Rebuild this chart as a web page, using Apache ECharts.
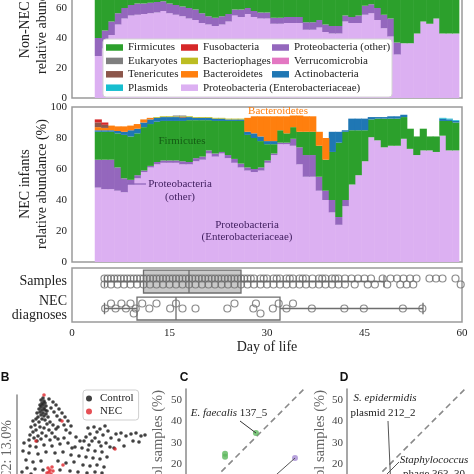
<!DOCTYPE html>
<html><head><meta charset="utf-8">
<script src="https://cdn.jsdelivr.net/npm/echarts@6/dist/echarts.min.js"></script>
<style>html,body{margin:0;padding:0;background:#fff;overflow:hidden;width:474px;height:474px}#c{position:absolute;left:0;top:-60px;width:474px;height:600px}</style>
</head><body><div id="c"></div>
<script>
// ---------------- DATA ----------------
const days = [4,5,6,7,8,9,10,11,12,13,14,15,16,17,18,19,20,21,22,23,24,25,26,27,28,29,30,31,32,33,34,35,36,37,38,39,40,41,42,43,44,45,46,47,48,49,50,51,52,53,54,55,56,57,58,59];

// Non-NEC infants (relative abundance %, per day)
const nonEntero = [28,33,42,49,53,55,55.5,56,56.5,57, 58,56.5,55.5,54.5,53,52,50,49,48,49, 51,55,54,56,54,53,53,49.5,49.5,50, 50,50,45.5,45.5,47,44,43,43,51,50, 50,55.5,56.5,52,46.5,41,29,36.5,36.5,43, 51,49.5,53,43,43,43];
const nonProtOther = [12,12,9,7.5,7,7,7.5,7,7,7, 6.5,6.5,6.5,6.5,7,7,6.5,5.5,5.5,5.5, 5,4,5,4,4,4,4,4,4,4, 4,4,5,5,5,5,5,5,4,4, 5,6,6,8,9,12,8,0,0,0, 0,0,0,0,0,0];
const nonFirmicutes = [52,47,41,35.5,32,30,29,29,28.5,28, 27.5,29,30,31,32,33,35.5,37.5,38.5,37.5, 36,33,33,32,34,35,35,38.5,38.5,38, 38,38,41.5,41.5,40,43,44,44,37,38, 37,30.5,29.5,32,36.5,39,55,55.5,55.5,49, 41,42.5,39,49,49,49];

// NEC infants
const necEntero = [48,47,47,46,45,50,54,58,61,63, 64,64,64,63,63,65,66,70,68,70, 67,64,61,59,58,59,64,69,76,76, 75,63,55,55,46,40,32,24,36,50, 56,65,80.5,78.5,74,75,75,79.5,73,69, 72,72,71,81.5,72,72];
const necProtOther = [18,19,19,15,9,3,2,1,1,1.5, 1.5,1.5,1.5,2,1.5,2,2,2,2,1, 2,2.5,2.5,2,2,2,1.5,1,1,1, 4.5,11,14,14,9,6,8,5,4,0, 0,0,0,0,0,0,0,0,0,0, 0,0,0,0,0,0];
const necFirmicutes = [18,18,18,22,28,28,27,28,27,26, 25.5,25.5,25.5,26,27,24.5,23.5,19.5,21,20, 22,24.5,27.5,21,20,17,10.5,6,8,6, 7.5,10,15,15,20,20,31,48,44,35, 29,20,11.5,14,18.5,17.5,17.5,14,13,12, 14,9,10,9.5,19,18];
const necActino = [1,1,1,1.5,2,4,3,3,3,2.5, 2.5,2.5,2.5,2,2,1.5,1.5,1.5,1.5,1.5, 1,1,1,2,3,3,2,2,0,0, 0,0,0,0,0,0,13,7,1,7.5, 7.5,7.5,1.5,1,1,1.5,1.5,1.5,0,0, 0,0,0,1.5,1,1];
const necBacteroidetes = [2,1.5,3,3,3.5,3,3,2,1,0, 0,0,0,0,0,0,0,0,0,0, 0,0,0,9,11,13,16,16,9,11, 7.5,10.5,10,10,9,14,0,0,0,0, 0,0,0,0,0,0,0,0,0,0, 0,0,0,0,0,0];
const necTenericutes = [3,2,0,0,0,0,0,0,0,0, 0,0,0,0.5,0,0,0,0,0,0, 0,0,0,0,0,0,0,0,0,0, 0,0,0,0,0,0,0,0,0,0, 0,0,0,0,0,0,0,0,0,0, 0,0,0,0,0,0];
const necFuso = [2,1.5,0,0,0,0,0,0,0,0, 0,0,0,0,0,0,0,0,0,0, 0,0,0,0,0,0,0,0,0,0, 0,0,0,0,0,0,0,0,0,0, 0,0,0,0,0,0,0,0,0,0, 0,0,0,0,0,0];
const necPhages = [0,0,0,0,0,0,0,0,0,0.5, 0.5,0.5,0.5,0.5,0.5,0.5,0.5,0.5,0.5,0.5, 0.5,0.5,0.5,0,0,0,0,0,0,0, 0,0,0,0,0,0,0,0,0,0, 0,0,0,0,0,0,0,0,0,0, 0,0,0,0,0,0];
const necEukaryotes = [0,0,0,0,0,0,0,0,0,0, 0,0,0.5,0.5,0,0,0,0,0,0, 0,0,0,0,0,0,0,0,0,0, 0,0,0,0,0,0,0,0,0,0, 0,0,0,0,0,0,0,0,0,0, 0,0,0,0,0,0];
const necPlasmids = [0,0,0,0,0,0,0,0,0,0, 0,0,0,0,0,0,0,0,0,0, 0,0,0,0,0,0,0,0,0,0, 0,0,0,0,0,0,0,0,0,0, 0,0,0,0,0,0,0,0,0,0, 0,0,0,0.5,0.5,0.5];
const necVerruco = [0,0,0,0,0,0,0,0,0,0, 0,0,0,0,0,0,0,0,0,0, 0,0,0,0,0,0,0,0,0,0, 0,0,0,0,0,0,0,0,0,0, 0,0,0,0,0,0,0,0,0,0, 0,0,0,0,0,0];

// Box panel (day of life)
const rowLabels = ['Samples', 'NEC\ndiagnoses'];
const samplesBox = [5, 11, 18, 26, 48];   // min, q1, median, q3, max
const necBox = [5, 10, 16, 32, 54];
const samplesDays = [5,5,5.5,6,6,6.5,7,7,7.5,8,8,8.5,9,9,9.5,10,10,10.5,11,11,11.5,12,12,12.5,13,13,13.5,14,14,14.5,15,15,15.5,16,16,16.5,17,17,17.5,18,18,18.5,19,19,19.5,20,20,20.5,21,21,21.5,22,22,22.5,23,23,23.5,24,24,24.5,25,25,25.5,26,26,26.5,27,27,27.5,28,28,29,29,29.5,30,30,31,31,31.5,32,32,33,33,33.5,34,34,35,35,35.5,36,36,37,37,38,38,38.5,39,39,40,40,40.5,41,41,42,42,43,43.5,44,45,45.5,46,46.6,47.8,48.5,49,50,50.5,51,51.5,52,52.5,53,55,56,57,59,59.8];
const necDays = [5.1,6,6.7,7.6,8.3,9,9.5,9.8,10.8,11.9,13,15.1,16,17,19,23.9,25,27.9,28.3,29,30.9,31.8,33,34,36.9,41.9,44.9,50.9,53.9];
const dayTicks = [0, 15, 30, 45, 60];

// Panel B (PCA scores, arbitrary units)
const pcaControl = [[26,82],[24,80],[27,79],[25,77],[28,77],[23,75],[26,75],[29,74],[24,73],[27,72],[22,71],[25,70],[28,70],[30,69],[23,68],[26,67],[20,67],[29,66],[24,65],[27,64],[21,63],[31,63],[19,61],[25,61],[28,60],
[16,59],[22,58],[33,58],[18,55],[30,56],[36,55],[14,53],[23,53],[27,52],[19,50],[32,50],[39,51],[16,48],[25,47],[35,47],[13,45],[21,44],[29,44],[38,43],[17,42],[24,41],[33,40],[41,41],[12,40],[20,39],
[32,81],[36,78],[39,75],[34,72],[42,71],[37,68],[45,67],[40,64],[48,63],[43,60],[51,59],[47,55],[54,54],[41,53],[49,50],
[71,52],[77,53],[83,51],[88,54],[80,48],[73,46],[86,45],[91,49],[69,43],[78,42],[94,42],[75,39],[82,38],[89,37],[72,35],[84,34],[67,39],[93,33],
[99,46],[104,47],[109,44],[114,46],[119,47],[124,44],[128,45],[102,40],[116,39],[122,38],[107,34],[97,32],
[7,37],[13,34],[19,33],[27,35],[35,34],[43,36],[51,37],[58,33],[65,32],[71,30],[78,29],[85,28],[6,29],[12,27],[21,26],[29,28],[38,27],[46,28],[54,25],[62,24],[69,23],[76,22],[83,21],[90,23],[9,20],[16,18],[24,19],[41,19],[49,17],[57,18],[66,15],[73,14],[80,15],[87,13],[10,12],[18,11],[26,10],[43,10],[53,9],[61,8],[70,7],[78,8],[85,7],[14,6],[5,8],
[53,47],[59,43],[63,39],[47,42],[55,32]];
const pcaNEC = [[27,85],[19,39],[45,59],[46,15],[98,31],[31,12],[33,10],[35,13],[32,8],[34,6],[30,7],[36,9]];

// Panels C / D (% of samples)
const cGreen = [[32.6,34.5],[18.2,24.8],[18.2,23.4]];
const cPurple = [[50.8,22.8]];
const diagonal = [[0,0],[55,55]];

// ---------------- STYLE / LAYOUT ----------------
const OY = 60;               // canvas is shifted up by this many px (figure is cropped)
const Y = y => y + OY;
const FONT = 'Liberation Serif';
const taxaColors = {
  'Firmicutes':'#2ca02c','Fusobacteria':'#d62728','Proteobacteria (other)':'#9467bd',
  'Eukaryotes':'#7f7f7f','Bacteriophages':'#bcbd22','Verrucomicrobia':'#e377c2',
  'Tenericutes':'#8c564b','Bacteroidetes':'#ff7f0e','Actinobacteria':'#1f77b4',
  'Plasmids':'#17becf','Proteobacteria (Enterobacteriaceae)':'#dcb0f2'};

function stepBar(params, api){
  const d = api.value(0), lo = api.value(1), hi = api.value(2);
  if (!(hi - lo > 0)) return;
  const p0 = api.coord([d - 0.5, hi]);
  const p1 = api.coord([d + 0.5, lo]);
  return {type:'rect', shape:{x:p0[0], y:p0[1], width:p1[0]-p0[0]+0.6, height:p1[1]-p0[1]}, style:{fill:api.visual('color')}};
}
function areaSeries(layers, idx){
  const base = days.map(()=>0);
  return layers.map(([name, vals]) => {
    const data = vals.map((v,i)=>{ const lo = base[i]; base[i] = lo + v; return [days[i], lo, base[i]]; });
    return {type:'custom', name, xAxisIndex:idx, yAxisIndex:idx, itemStyle:{color:taxaColors[name]},
      renderItem:stepBar, data, encode:{x:0, y:[1,2]}, silent:true, z:2};
  });
}
const nonLayers = [['Proteobacteria (Enterobacteriaceae)', nonEntero], ['Proteobacteria (other)', nonProtOther], ['Firmicutes', nonFirmicutes]];
const necLayers = [['Proteobacteria (Enterobacteriaceae)', necEntero], ['Proteobacteria (other)', necProtOther], ['Firmicutes', necFirmicutes],
  ['Actinobacteria', necActino], ['Bacteroidetes', necBacteroidetes], ['Tenericutes', necTenericutes], ['Fusobacteria', necFuso],
  ['Bacteriophages', necPhages], ['Eukaryotes', necEukaryotes], ['Plasmids', necPlasmids], ['Verrucomicrobia', necVerruco]];

const boxFills = ['#c8c8c8', 'none'];
function boxItem(params, api){
  const cat = api.value(5);
  const bw = api.size([0,1])[1] * 0.85;
  const yc = api.coord([0, cat])[1];
  const X = k => api.coord([api.value(k), cat])[0];
  const xmin = X(0), xq1 = X(1), xmed = X(2), xq3 = X(3), xmax = X(4);
  const stroke = '#6e6e6e', lw = 1.3, half = bw/2, cap = bw/4;
  return {type:'group', children:[
    {type:'line', shape:{x1:xmin,y1:yc,x2:xq1,y2:yc}, style:{stroke, lineWidth:lw}},
    {type:'line', shape:{x1:xq3,y1:yc,x2:xmax,y2:yc}, style:{stroke, lineWidth:lw}},
    {type:'line', shape:{x1:xmin,y1:yc-cap,x2:xmin,y2:yc+cap}, style:{stroke, lineWidth:lw}},
    {type:'line', shape:{x1:xmax,y1:yc-cap,x2:xmax,y2:yc+cap}, style:{stroke, lineWidth:lw}},
    {type:'rect', shape:{x:xq1,y:yc-half,width:xq3-xq1,height:bw}, style:{fill:boxFills[params.dataIndex], stroke, lineWidth:lw}},
    {type:'line', shape:{x1:xmed,y1:yc-half,x2:xmed,y2:yc+half}, style:{stroke, lineWidth:lw}}
  ]};
}
// beeswarm-like vertical offsets (layout only)
function swarm(values, gap, levels){
  const placed = [];
  return values.map(v => {
    let best = levels[0], bestDist = -1;
    for (const off of levels){
      let dmin = Infinity;
      for (const p of placed) if (p.off === off) dmin = Math.min(dmin, Math.abs(p.v - v));
      if (dmin >= gap){ best = off; bestDist = Infinity; break; }
      if (dmin > bestDist){ bestDist = dmin; best = off; }
    }
    placed.push({v, off:best});
    return best;
  });
}
const sOff = swarm(samplesDays, 1.0, [-3, 3]);
const nOff = swarm(necDays, 1.2, [0, -5, 5]);
const circleStyle = {color:'rgba(255,255,255,0)', borderColor:'#6e6e6e', borderWidth:1.2};

const legendCols = [
  ['Firmicutes','Eukaryotes','Tenericutes','Plasmids'],
  ['Fusobacteria','Bacteriophages','Bacteroidetes','Proteobacteria (Enterobacteriaceae)'],
  ['Proteobacteria (other)','Verrucomicrobia','Actinobacteria']];
const legendLeft = [106, 181, 272];

const frame = {show:true, borderColor:'#9a9a9a', borderWidth:1.5, backgroundColor:'#fff'};
const hidden = {show:false};
const noSplit = {show:false};
const yPct = idx => ({gridIndex:idx, type:'value', min:0, max:100, interval:20, axisLine:hidden, axisTick:hidden, splitLine:noSplit,
  axisLabel:{fontFamily:FONT, fontSize:11, color:'#222', margin:5}});
const yFreq = idx => ({gridIndex:idx, type:'value', min:0, max:55, interval:10, axisLine:{show:true, lineStyle:{color:'#8a8a8a', width:1.5}},
  axisTick:hidden, splitLine:noSplit, axisLabel:{fontFamily:FONT, fontSize:11, color:'#444', margin:4, showMaxLabel:false, showMinLabel:false}});

const chart = echarts.init(document.getElementById('c'), null, {renderer:'canvas'});
const option = {
  animation:false,
  backgroundColor:'#fff',
  grid:[
    Object.assign({left:72, top:Y(-52), width:390, height:150}, frame),
    Object.assign({left:72, top:Y(107), width:390, height:155}, frame),
    Object.assign({left:72, top:Y(268), width:390, height:54}, frame),
    {left:17, top:Y(395), width:135, height:85},
    {left:186, top:Y(389), width:118, height:118},
    {left:347, top:Y(389), width:118, height:118}
  ],
  xAxis:[
    {gridIndex:0, type:'value', min:0, max:60, show:false},
    {gridIndex:1, type:'value', min:0, max:60, show:false},
    {gridIndex:2, type:'value', min:dayTicks[0], max:dayTicks[dayTicks.length-1], interval:15, axisLine:hidden, axisTick:hidden, splitLine:noSplit,
      axisLabel:{fontFamily:FONT, fontSize:11, color:'#222', margin:6},
      name:'Day of life', nameLocation:'middle', nameGap:17, nameTextStyle:{fontFamily:FONT, fontSize:14, color:'#222'}},
    {gridIndex:3, type:'value', min:0, max:135, show:false},
    {gridIndex:4, type:'value', min:0, max:55, show:false},
    {gridIndex:5, type:'value', min:0, max:55, show:false}
  ],
  yAxis:[
    yPct(0), yPct(1),
    {gridIndex:2, type:'category', data:rowLabels, inverse:true, axisLine:hidden, axisTick:hidden,
      axisLabel:{fontFamily:FONT, fontSize:14, lineHeight:14, color:'#222', margin:5}},
    {gridIndex:3, type:'value', min:0, max:85, axisLine:{show:true, lineStyle:{color:'#8a8a8a', width:1.5}}, axisLabel:hidden, axisTick:hidden, splitLine:noSplit},
    yFreq(4), yFreq(5)
  ],
  legend: legendCols.map((col,i)=>({data:col, orient:'vertical', left:legendLeft[i], top:Y(40.8), itemWidth:17, itemHeight:6.5, itemGap:0,
      icon:'rect', selectedMode:false, padding:0, z:20, textStyle:{fontFamily:FONT, fontSize:11, color:'#222', lineHeight:13.4}}))
    .concat([{data:['Control','NEC'], orient:'vertical', left:83, top:Y(390), itemWidth:12, itemHeight:6, itemGap:0, icon:'circle',
      selectedMode:false, padding:[2,5,2,3], backgroundColor:'#fff', borderColor:'#cfcfcf', borderWidth:1, borderRadius:3, z:20,
      textStyle:{fontFamily:FONT, fontSize:11, color:'#222', lineHeight:13}}]),
  series: [].concat(
    areaSeries(nonLayers, 0),
    areaSeries(necLayers, 1),
    [
      {type:'custom', name:'box', xAxisIndex:2, yAxisIndex:2, renderItem:boxItem, silent:true, z:2,
        data:[samplesBox.concat([0]), necBox.concat([1])], encode:{x:[0,1,2,3,4], y:5}},
      {type:'scatter', name:'samplePts', xAxisIndex:2, yAxisIndex:2, symbol:'circle', symbolSize:7, silent:true, z:3, itemStyle:circleStyle,
        data:samplesDays.map((d,i)=>({value:[d,0], symbolOffset:[0,sOff[i]]}))},
      {type:'scatter', name:'necPts', xAxisIndex:2, yAxisIndex:2, symbol:'circle', symbolSize:7, silent:true, z:3, itemStyle:circleStyle,
        data:necDays.map((d,i)=>({value:[d,1], symbolOffset:[0,nOff[i]]}))},
      {type:'scatter', name:'Control', xAxisIndex:3, yAxisIndex:3, symbolSize:3.6, itemStyle:{color:'#111'}, data:pcaControl, silent:true, z:3, clip:false},
      {type:'scatter', name:'NEC', xAxisIndex:3, yAxisIndex:3, symbolSize:3.6, itemStyle:{color:'#e0242a'}, data:pcaNEC, silent:true, z:4, clip:false},
      {type:'line', name:'diagC', xAxisIndex:4, yAxisIndex:4, data:diagonal, showSymbol:false, silent:true, lineStyle:{color:'#8a8a8a', width:1.6, type:[6,4]}},
      {type:'line', name:'diagD', xAxisIndex:5, yAxisIndex:5, data:diagonal, showSymbol:false, silent:true, lineStyle:{color:'#8a8a8a', width:1.6, type:[6,4]}},
      {type:'scatter', name:'cGreen', xAxisIndex:4, yAxisIndex:4, symbolSize:6, itemStyle:{color:'#5cb85c'}, data:cGreen, silent:true, z:4},
      {type:'scatter', name:'cPurple', xAxisIndex:4, yAxisIndex:4, symbolSize:6, itemStyle:{color:'#a58bd3'}, data:cPurple, silent:true, z:4}
    ])
};
chart.setOption(option);

// ---------------- ANNOTATIONS ----------------
const T = (text, x, y, o) => Object.assign({type:'text', x, y:Y(y), z:30, style:Object.assign({text, fontFamily:FONT, fontSize:11, fill:'#222', align:'center', verticalAlign:'middle'}, (o&&o.style)||{})}, o?{rotation:o.rotation||0}:{});
const L = (x1,y1,x2,y2,stroke,w) => ({type:'line', z:30, shape:{x1, y1, x2, y2}, style:{stroke, lineWidth:w||1}});
const purpleText = '#3f1d5e';
const pE = chart.convertToPixel({gridIndex:4}, cGreen[0]);
const pP = chart.convertToPixel({gridIndex:4}, cPurple[0]);
const graphics = [
  {type:'rect', z:10, shape:{x:103, y:Y(39), width:289, height:58, r:3}, style:{fill:'#fff', stroke:'#d4d4d4', lineWidth:1}},
  T('Non-NEC infants\nrelative abundance (%)', 33.5, 9, {rotation:Math.PI/2, style:{fontSize:14, lineHeight:17}}),
  T('NEC infants\nrelative abundance (%)', 33.5, 184, {rotation:Math.PI/2, style:{fontSize:14, lineHeight:17}}),
  T('Bacteroidetes', 278, 111, {style:{fill:'#ff7f0e'}}),
  T('Firmicutes', 182, 141, {style:{fill:'#145c14'}}),
  T('Proteobacteria\n(other)', 180, 191, {style:{fill:purpleText, lineHeight:13}}),
  L(127, Y(184), 146, Y(184), '#8a63b8', 1.2),
  T('Proteobacteria\n(Enterobacteriaceae)', 247, 231, {style:{fill:purpleText, lineHeight:12}}),
  T('B', 5, 378, {style:{fontFamily:'Liberation Sans', fontWeight:'bold', fontSize:12, fill:'#111'}}),
  T('C', 184, 378, {style:{fontFamily:'Liberation Sans', fontWeight:'bold', fontSize:12, fill:'#111'}}),
  T('D', 344, 378, {style:{fontFamily:'Liberation Sans', fontWeight:'bold', fontSize:12, fill:'#111'}}),
  T('PC2: 13.0%', 7, 420, {rotation:Math.PI/2, style:{fontSize:14, fill:'#666', align:'right'}}),
  T('Frequency in control samples (%)', 158, 390, {rotation:Math.PI/2, style:{fontSize:14.5, fill:'#666', align:'right'}}),
  T('Frequency in control samples (%)', 320, 390, {rotation:Math.PI/2, style:{fontSize:14.5, fill:'#666', align:'right'}}),
  {type:'text', x:229, y:Y(413), z:30, style:{text:'{i|E. faecalis} 137_5', fontFamily:FONT, fontSize:11, fill:'#222', align:'center', verticalAlign:'middle', rich:{i:{fontStyle:'italic', fontFamily:FONT, fontSize:11}}}},
  L(240, Y(421), pE[0], pE[1], '#333', 1),
  L(pP[0], pP[1], 268, Y(482), '#555', 1),
  T('S. epidermidis', 385, 398, {style:{fontStyle:'italic'}}),
  T('plasmid 212_2', 383, 413),
  L(388, Y(421), 391, Y(490), '#555', 1),
  T('Staphylococcus', 434, 460, {style:{fontStyle:'italic'}}),
  T('phage 363_30', 434, 474),
  L(399, Y(462), 384, Y(477), '#555', 1)
];
chart.setOption({graphic:graphics});
</script>
</body></html>
